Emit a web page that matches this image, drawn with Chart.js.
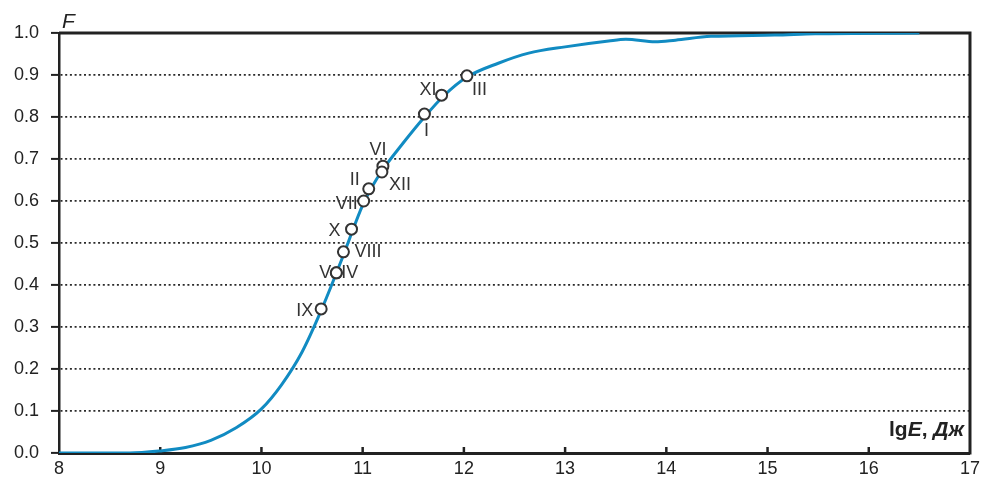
<!DOCTYPE html>
<html>
<head>
<meta charset="utf-8">
<script src="https://cdn.jsdelivr.net/npm/chart.js@4"></script>
<style>
  body { margin: 0; background: #fff; }
  #wrap { width: 985px; height: 482px; }
</style>
</head>
<body>
<div id="wrap"><canvas id="plot_canvas" width="985" height="482"></canvas></div>
<script>
// distribution curve F(lgE)
const curveX = [8, 8.7, 9.0, 9.25, 9.5, 9.75, 10.0, 10.2, 10.4, 10.6, 10.8, 11.0, 11.1, 11.2, 11.4, 11.6, 11.8, 12.03, 12.34, 12.64, 13.0, 13.43, 13.6, 13.89, 14.09, 14.44, 15.07, 15.47, 16.5];
const curveF = [0, 0, 0.005, 0.013, 0.03, 0.06, 0.105, 0.163, 0.24, 0.345, 0.465, 0.59, 0.637, 0.675, 0.738, 0.797, 0.85, 0.895, 0.928, 0.952, 0.967, 0.981, 0.985, 0.979, 0.983, 0.992, 0.995, 0.998, 1.0];

// observed events
const pointNames = ["I", "II", "III", "IV", "V", "VI", "VII", "VIII", "IX", "X", "XI", "XII"];
const pointX = [11.61, 11.06, 12.03, 10.74, 10.74, 11.20, 11.01, 10.81, 10.59, 10.89, 11.78, 11.19];
const pointF = [0.807, 0.629, 0.898, 0.429, 0.429, 0.683, 0.600, 0.479, 0.343, 0.533, 0.852, 0.669];

const xTicks = [8, 9, 10, 11, 12, 13, 14, 15, 16, 17];
const yTicks = [0, 0.1, 0.2, 0.3, 0.4, 0.5, 0.6, 0.7, 0.8, 0.9, 1.0];

// label placement next to each point (dx, dy, align)
const labelPlace = {
  "I": [2, 17, "center"], "II": [-9, -9, "right"], "III": [5, 14, "left"],
  "IV": [5, 0, "left"], "V": [-5, 0, "right"], "VI": [-5, -16, "center"],
  "VII": [-6, 3, "right"], "VIII": [11, 0, "left"], "IX": [-8, 2, "right"],
  "X": [-11, 2, "right"], "XI": [-5, -5, "right"], "XII": [7, 13, "left"]
};

const FONT = "'Liberation Sans', Arial, sans-serif";
const INK = "#222";

const framePlugin = {
  id: "frame",
  beforeDatasetsDraw(chart) {
    const {ctx, chartArea: a, scales} = chart;
    ctx.save();
    ctx.strokeStyle = INK;
    ctx.lineWidth = 3;
    ctx.beginPath();
    ctx.moveTo(a.left, a.top);
    ctx.lineTo(a.right, a.top);
    ctx.lineTo(a.right, a.bottom + 1.5);
    ctx.stroke();
    // inner ticks on the x axis
    ctx.lineWidth = 2.5;
    xTicks.slice(1, -1).forEach(v => {
      const px = scales.x.getPixelForValue(v);
      ctx.beginPath();
      ctx.moveTo(px, a.bottom);
      ctx.lineTo(px, a.bottom - 6);
      ctx.stroke();
    });
    ctx.restore();
  },
  afterDatasetsDraw(chart) {
    const {ctx, chartArea: a, scales} = chart;
    ctx.save();
    ctx.fillStyle = "#333";
    ctx.font = "18px " + FONT;
    ctx.textBaseline = "middle";
    pointNames.forEach((n, i) => {
      const p = labelPlace[n];
      ctx.textAlign = p[2];
      ctx.fillText(n, scales.x.getPixelForValue(pointX[i]) + p[0], scales.y.getPixelForValue(pointF[i]) + p[1]);
    });

    // axis titles
    ctx.fillStyle = INK;
    ctx.textAlign = "left";
    ctx.textBaseline = "alphabetic";
    ctx.font = "italic 21px " + FONT;
    ctx.fillText("F", a.left + 3, 28);

    const parts = [["lg", "bold"], ["E", "italic bold"], [", ", "bold"], ["Дж", "italic bold"]];
    let w = 0;
    parts.forEach(p => { ctx.font = p[1] + " 21px " + FONT; w += ctx.measureText(p[0]).width; });
    let x = a.right - 6 - w;
    parts.forEach(p => {
      ctx.font = p[1] + " 21px " + FONT;
      ctx.fillText(p[0], x, 436);
      x += ctx.measureText(p[0]).width;
    });
    ctx.restore();
  }
};

const curveData = curveX.map((v, i) => ({x: v, y: curveF[i]}));
const pointData = pointX.map((v, i) => ({x: v, y: pointF[i]}));

const config = {
  type: "line",
  data: {
    datasets: [
      {
        data: pointData,
        showLine: false,
        pointRadius: 5.5,
        pointHoverRadius: 5.5,
        pointBackgroundColor: "#fff",
        pointBorderColor: "#333",
        pointBorderWidth: 2,
        order: 0
      },
      {
        data: curveData,
        borderColor: "#118bc2",
        borderWidth: 3,
        pointRadius: 0,
        cubicInterpolationMode: "monotone",
        fill: false,
        order: 1
      }
    ]
  },
  options: {
    responsive: false,
    animation: false,
    layout: {padding: {top: 33, right: 11, left: 0, bottom: 0}},
    plugins: {legend: {display: false}, tooltip: {enabled: false}},
    scales: {
      x: {
        type: "linear",
        min: xTicks[0],
        max: xTicks[xTicks.length - 1],
        afterBuildTicks: s => { s.ticks = xTicks.map(v => ({value: v})); },
        afterFit: s => { s.height = 29; },
        grid: {display: false, drawTicks: false},
        border: {display: true, color: INK, width: 3},
        ticks: {color: INK, font: {family: FONT, size: 18}, padding: 5, maxRotation: 0}
      },
      y: {
        type: "linear",
        min: 0,
        max: 1,
        afterBuildTicks: s => { s.ticks = yTicks.map(v => ({value: v})); },
        afterFit: s => { s.width = 59; },
        grid: {
          color: c => (c.tick && (c.tick.value === 0 || c.tick.value === 1)) ? "rgba(0,0,0,0)" : "#2a2a2a",
          lineWidth: 1.8,
          drawTicks: true,
          tickLength: 8,
          tickColor: INK,
          tickWidth: 2
        },
        border: {display: true, color: INK, width: 2.5, dash: [2, 2.7]},
        ticks: {
          color: INK,
          font: {family: FONT, size: 18},
          padding: 12,
          callback: v => Number(v).toFixed(1)
        }
      }
    }
  },
  plugins: [framePlugin]
};

new Chart(document.getElementById("plot_canvas"), config);
</script>
</body>
</html>
